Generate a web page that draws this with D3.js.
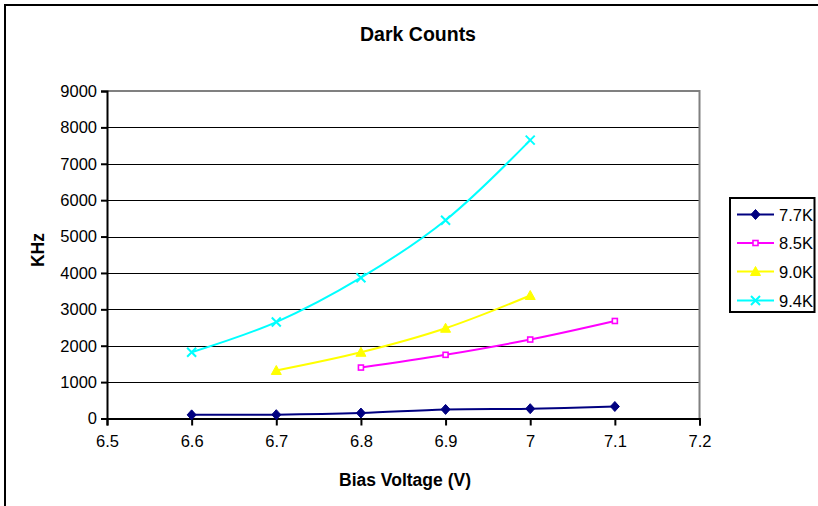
<!DOCTYPE html>
<html>
<head>
<meta charset="utf-8">
<script src="https://cdn.jsdelivr.net/npm/d3@7"></script>
<style>
  html, body { margin: 0; padding: 0; background: #fff; }
  svg { display: block; font-family: "Liberation Sans", Arial, sans-serif; }
</style>
</head>
<body>
<svg id="chart" width="818" height="506"></svg>
<script>
// Dark count rate versus bias voltage, one series per temperature
const seriesNames = ["7.7K", "8.5K", "9.0K", "9.4K"];
const volts77 = [6.6, 6.7, 6.8, 6.9, 7.0, 7.1];
const khz77   = [100, 105, 150, 250, 270, 330];
const volts85 = [6.8, 6.9, 7.0, 7.1];
const khz85   = [1400, 1750, 2170, 2680];
const volts90 = [6.7, 6.8, 6.9, 7.0];
const khz90   = [1320, 1820, 2480, 3380];
const volts94 = [6.6, 6.7, 6.8, 6.9, 7.0];
const khz94   = [1820, 2650, 3870, 5450, 7650];
const xTicks = [6.5, 6.6, 6.7, 6.8, 6.9, 7.0, 7.1, 7.2];
const yTicks = [0, 1000, 2000, 3000, 4000, 5000, 6000, 7000, 8000, 9000];

const series = [
  { name: seriesNames[0], xs: volts77, ys: khz77, color: "#000080", marker: "diamond" },
  { name: seriesNames[1], xs: volts85, ys: khz85, color: "#FF00FF", marker: "square" },
  { name: seriesNames[2], xs: volts90, ys: khz90, color: "#FFFF00", marker: "triangle" },
  { name: seriesNames[3], xs: volts94, ys: khz94, color: "#00FFFF", marker: "cross" }
];

const svg = d3.select("#chart");
const plot = { left: 107, right: 699.5, top: 91, bottom: 418.5 };

const x = d3.scaleLinear().domain([6.5, 7.2]).range([plot.left, plot.right]);
const y = d3.scaleLinear().domain([0, 9000]).range([plot.bottom, plot.top]);

// outer chart frame
svg.append("rect")
  .attr("x", 5).attr("y", 5).attr("width", 830).attr("height", 520)
  .attr("fill", "none").attr("stroke", "#000").attr("stroke-width", 2);

// title
svg.append("text")
  .attr("x", 418).attr("y", 41)
  .attr("text-anchor", "middle")
  .attr("font-size", 19.5).attr("font-weight", "bold")
  .text("Dark Counts");

// horizontal gridlines
svg.append("g").selectAll("line")
  .data(yTicks.filter(d => d > 0 && d < 9000))
  .join("line")
  .attr("x1", plot.left).attr("x2", plot.right)
  .attr("y1", d => Math.round(y(d)) + 0.5).attr("y2", d => Math.round(y(d)) + 0.5)
  .attr("stroke", "#000").attr("stroke-width", 1.2);

// plot-area border (top and right)
svg.append("path")
  .attr("d", `M${plot.left},${plot.top} H${plot.right} V${plot.bottom}`)
  .attr("fill", "none").attr("stroke", "#808080").attr("stroke-width", 2);

// y axis
const yAxis = d3.axisLeft(y).tickValues(yTicks).tickSize(6).tickPadding(4)
  .tickFormat(d3.format("d"));
const gy = svg.append("g").attr("transform", `translate(${plot.left},0)`).call(yAxis);
gy.select(".domain").attr("stroke", "#000").attr("stroke-width", 2);
gy.selectAll(".tick line").attr("stroke", "#000").attr("stroke-width", 2);
gy.selectAll(".tick text").attr("font-size", 16.5).attr("font-family", "Liberation Sans, Arial, sans-serif").attr("fill", "#000");

// x axis
const xAxis = d3.axisBottom(x).tickValues(xTicks).tickSize(7).tickPadding(10)
  .tickFormat(d => d3.format("")(+d.toFixed(1)));
const gx = svg.append("g").attr("transform", `translate(0,${plot.bottom})`).call(xAxis);
gx.select(".domain").attr("stroke", "#000").attr("stroke-width", 2);
gx.selectAll(".tick line").attr("stroke", "#000").attr("stroke-width", 2);
gx.selectAll(".tick text").attr("font-size", 16.5).attr("font-family", "Liberation Sans, Arial, sans-serif").attr("fill", "#000");

// axis titles
svg.append("text")
  .attr("x", 405).attr("y", 486)
  .attr("text-anchor", "middle")
  .attr("font-size", 17.5).attr("font-weight", "bold")
  .text("Bias Voltage (V)");

svg.append("text")
  .attr("transform", "translate(44,250) rotate(-90)")
  .attr("text-anchor", "middle")
  .attr("font-size", 17.5).attr("font-weight", "bold")
  .text("KHz");

// marker shapes
function drawMarker(g, type, color, cx, cy) {
  if (type === "diamond") {
    g.append("path").attr("d", `M${cx},${cy - 5} L${cx + 4.5},${cy} L${cx},${cy + 5} L${cx - 4.5},${cy} Z`)
      .attr("fill", color).attr("stroke", color).attr("stroke-width", 1);
  } else if (type === "square") {
    g.append("rect").attr("x", cx - 2.5).attr("y", cy - 2.5).attr("width", 5).attr("height", 5)
      .attr("fill", "#fff").attr("stroke", color).attr("stroke-width", 1.6);
  } else if (type === "triangle") {
    g.append("path").attr("d", `M${cx},${cy - 5} L${cx + 5},${cy + 4} L${cx - 5},${cy + 4} Z`)
      .attr("fill", color).attr("stroke", color).attr("stroke-width", 1);
  } else if (type === "cross") {
    g.append("path").attr("d", `M${cx - 4.5},${cy - 4.5} L${cx + 4.5},${cy + 4.5} M${cx - 4.5},${cy + 4.5} L${cx + 4.5},${cy - 4.5}`)
      .attr("stroke", color).attr("stroke-width", 2).attr("fill", "none");
  }
}

// smoothed series lines and markers
const line = d3.line()
  .x(d => x(d[0]))
  .y(d => y(d[1]))
  .curve(d3.curveCatmullRom.alpha(0.5));

series.forEach(s => {
  const pts = s.xs.map((v, i) => [v, s.ys[i]]);
  const g = svg.append("g");
  g.append("path").datum(pts).attr("d", line)
    .attr("fill", "none").attr("stroke", s.color).attr("stroke-width", 2);
  pts.forEach(p => drawMarker(g, s.marker, s.color, x(p[0]), y(p[1])));
});

// legend
const legend = svg.append("g");
legend.append("rect")
  .attr("x", 730).attr("y", 198).attr("width", 84.5).attr("height", 114)
  .attr("fill", "#fff").attr("stroke", "#000").attr("stroke-width", 2);
const rowY = [214.5, 243, 271.5, 300.5];
series.forEach((s, i) => {
  const ry = rowY[i];
  legend.append("line").attr("x1", 737).attr("x2", 774).attr("y1", ry).attr("y2", ry)
    .attr("stroke", s.color).attr("stroke-width", 2.2);
  drawMarker(legend, s.marker, s.color, 755.5, ry);
  legend.append("text").attr("x", 779).attr("y", ry + 6)
    .attr("font-size", 16.5).text(s.name);
});
</script>
</body>
</html>
